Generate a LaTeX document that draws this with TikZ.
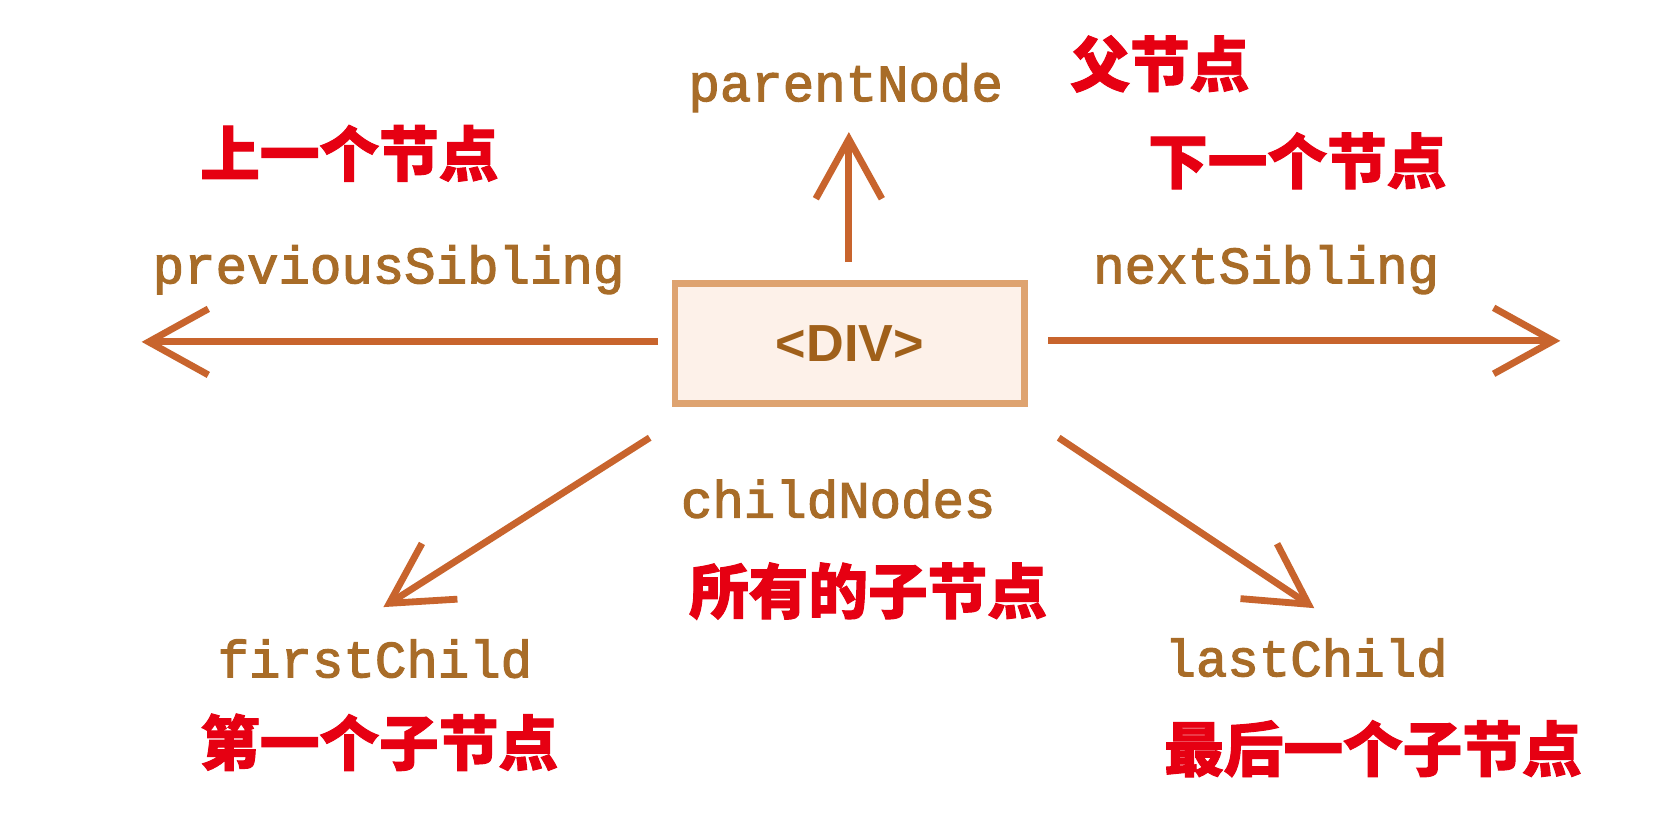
\documentclass[tikz,border=0pt]{standalone}
\usepackage{fontspec}
\setmainfont{Liberation Sans}
\newfontfamily\monof[FakeBold=2.2]{Liberation Mono}
\newfontfamily\cjk[BoldFeatures={FakeBold=1.6}]{Noto Sans CJK SC}
\usetikzlibrary{arrows.meta}
\definecolor{arrowc}{RGB}{200,100,45}
\definecolor{codec}{RGB}{168,108,40}
\definecolor{divtext}{RGB}{160,96,26}
\definecolor{divfill}{RGB}{253,241,233}
\definecolor{divline}{RGB}{222,163,112}
\definecolor{zhred}{RGB}{230,0,18}
\begin{document}
\begin{tikzpicture}[x=0.5pt,y=-0.5pt,
  arr/.style={draw=arrowc, line width=3.2pt, -{Straight Barb[length=28pt,width=31pt]}},
  code/.style={font=\monof\fontsize{24.6pt}{26pt}\selectfont, text=codec, inner sep=0pt, anchor=base west},
  zh/.style={font=\cjk\bfseries\fontsize{28pt}{30pt}\selectfont, text=zhred, inner sep=0pt},
  divbox/.style={draw=divline, fill=divfill, line width=3pt, minimum width=164pt, minimum height=56.5pt, inner sep=0pt,
    font=\bfseries\fontsize{24.5pt}{26pt}\selectfont, text=divtext}]
\useasboundingbox (0,0) rectangle (1568,781);
\fill[white] (0,0) rectangle (1568,781);

\node[divbox] (div) at (798,322.5) {<DIV>};

\node[code] (parent) at (646,95) {parentNode};
\node[code] (prev) at (143,266) {previousSibling};
\node[code] (next) at (1026,266) {nextSibling};
\node[code] (childs) at (639,486) {childNodes};
\node[code] (first) at (204,636) {firstChild};
\node[code] (last) at (1093,635) {lastChild};

\node[zh] (zhparent) at (1089,60) {父节点};
\node[zh] (zhprev) at (328,144) {上一个节点};
\node[zh] (zhnext) at (1218,151) {下一个节点};
\node[zh] (zhchilds) at (815,555) {所有的子节点};
\node[zh] (zhfirst) at (356,697) {第一个子节点};
\node[zh] (zhlast) at (1289,703) {最后一个子节点};

\coordinate (lS) at (618,321);
\coordinate (lT) at (133,321);
\coordinate (rS) at (984,320);
\coordinate (rT) at (1465,320);
\coordinate (uS) at (797,246);
\coordinate (uT) at (797,124);
\coordinate (dlS) at (610,411);
\coordinate (dlT) at (360,570);
\coordinate (drS) at (994,411);
\coordinate (drT) at (1234,571);

\draw[arr] (lS) -- (lT);
\draw[arr] (rS) -- (rT);
\draw[arr] (uS) -- (uT);
\draw[arr] (dlS) -- (dlT);
\draw[arr] (drS) -- (drT);
\end{tikzpicture}
\end{document}
